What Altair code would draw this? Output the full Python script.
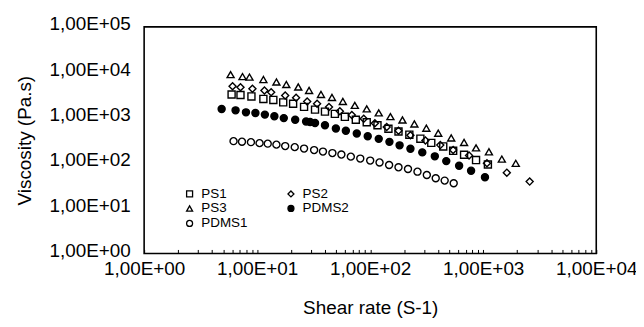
import altair as alt
import pandas as pd

series_order = ["PS1", "PS2", "PS3", "PDMS2", "PDMS1"]
series_shapes = ["square", "diamond", "triangle-up", "circle", "circle"]
series_fills = ["transparent", "transparent", "transparent", "black", "transparent"]
series_strokes = ["black", "black", "black", "black", "black"]

ps1_rate = [5.94, 7.12, 8.90, 11.35, 13.9, 17.0, 20.8, 26.0, 32.5, 39.8, 48.7, 59.7, 74.6,
            93.2, 116, 145, 178, 222, 278, 347, 443, 542, 677, 864, 1100]
ps1_visc = [3225, 3145, 2917, 2571, 2444, 2155, 2017, 1717, 1490, 1347, 1205, 1036, 890,
            785, 674, 565, 491, 418, 341, 276, 230, 184, 151, 115, 92]

ps2_rate = [6.06, 7.12, 9.08, 11.6, 13.3, 17.7, 22.1, 27.7, 33.9, 43.2, 53.9, 68.8, 87.7,
            110, 140, 178, 227, 308, 417, 542, 749, 1079, 1617, 2576]
ps2_visc = [4909, 4667, 4305, 3950, 3625, 3069, 2732, 2265, 2017, 1700, 1368, 1135, 937,
            747, 619, 511, 407, 311, 246, 191, 145, 97.5, 60.7, 38.5]

ps3_rate = [5.82, 7.42, 8.55, 11.35, 14.8, 18.1, 23.1, 28.8, 36.7, 45.9, 57.3, 73.1, 93.2,
            119, 151, 193, 246, 314, 400, 521, 677, 864, 1123, 1461, 1941]
ps3_visc = [8855, 8010, 7810, 6880, 6070, 5345, 4710, 3950, 3225, 2775, 2265, 1852, 1552,
            1268, 1046, 881, 721, 580, 450, 355, 282, 214, 175, 121, 97.5]

pdms2_rate = [4.85, 6.44, 7.96, 9.65, 11.7, 14.2, 17.2, 21.7, 27.1, 29.4, 32.5, 39.8, 49.7,
              60.9, 76.1, 95.1, 119, 148, 182, 227, 289, 373, 471, 612, 781, 1036]
pdms2_visc = [1536, 1439, 1300, 1255, 1158, 1062, 970, 890, 813, 797, 757, 674, 571,
              511, 444, 387, 338, 290, 243, 204, 170, 139, 109, 85.9, 67.1, 48.1]

pdms1_rate = [6.18, 7.34, 8.81, 10.5, 12.4, 14.8, 17.7, 21.5, 26.0, 31.9, 38.2, 46.3, 55.6,
              67.4, 81.7, 100, 121, 147, 178, 216, 262, 317, 380, 456, 548]
pdms1_visc = [301, 293, 286, 272, 265, 252, 234, 222, 206, 191, 177, 164, 152,
              137, 124, 112, 102, 89.5, 79.6, 73.1, 63.8, 54.0, 45.7, 40.5, 35.5]

x_ticks = [m * 10 ** d for d in range(4) for m in range(1, 10)] + [10000]
y_ticks = [1, 10, 100, 1000, 10000, 100000]

rows = []
for name, rates, viscs in [("PS1", ps1_rate, ps1_visc), ("PS2", ps2_rate, ps2_visc),
                           ("PS3", ps3_rate, ps3_visc), ("PDMS2", pdms2_rate, pdms2_visc),
                           ("PDMS1", pdms1_rate, pdms1_visc)]:
    for r, v in zip(rates, viscs):
        rows.append({"series": name, "rate": r, "visc": v})
df = pd.DataFrame(rows)

FONT = "Liberation Sans"

label_x = ("abs(log(datum.value)/LN10 - round(log(datum.value)/LN10)) < 0.000001 ? "
           "'1,00E+0' + round(log(datum.value)/LN10) : ''")
label_y = "'1,00E+0' + round(log(datum.value)/LN10)"


def make_legend():
    return alt.Legend(title=None, orient="none", legendX=39, legendY=161,
                      direction="horizontal", columns=2, columnPadding=36,
                      rowPadding=0, labelFont=FONT, labelFontSize=13.5,
                      labelColor="black", labelOffset=5, symbolSize=36,
                      symbolStrokeWidth=1.3, symbolOpacity=1, padding=0)


chart = alt.Chart(df).mark_point(size=50, strokeWidth=1.4, opacity=1).encode(
    x=alt.X("rate:Q",
            scale=alt.Scale(type="log", domain=[1, 10000], nice=False),
            axis=alt.Axis(title="Shear rate (S-1)", values=x_ticks, labelExpr=label_x,
                          offset=-4, tickSize=4, tickColor="black", tickWidth=1,
                          domain=False, grid=False, labelPadding=6,
                          labelFontSize=19, labelFont=FONT, labelColor="black",
                          labelOverlap=False, labelFlush=False,
                          titleFont=FONT, titleFontSize=19, titleFontWeight="normal",
                          titleColor="black", titlePadding=20)),
    y=alt.Y("visc:Q",
            scale=alt.Scale(type="log", domain=[1, 100000], nice=False),
            axis=alt.Axis(title="Viscosity (Pa.s)", values=y_ticks, labelExpr=label_y,
                          tickSize=0, domain=False, grid=False, labelPadding=14,
                          labelOffset=-3,
                          labelFontSize=19, labelFont=FONT, labelColor="black",
                          labelOverlap=False, labelFlush=False,
                          titleFont=FONT, titleFontSize=19, titleFontWeight="normal",
                          titleColor="black", titlePadding=14)),
    shape=alt.Shape("series:N", scale=alt.Scale(domain=series_order, range=series_shapes),
                    sort=series_order, legend=make_legend()),
    fill=alt.Fill("series:N", scale=alt.Scale(domain=series_order, range=series_fills),
                  sort=series_order, legend=make_legend()),
    stroke=alt.Stroke("series:N", scale=alt.Scale(domain=series_order, range=series_strokes),
                      sort=series_order, legend=make_legend()),
).properties(
    width=455, height=228,
    autosize=alt.AutoSizeParams(type="none"),
    padding={"left": 137, "top": 18, "right": 40, "bottom": 70},
).configure(
    background="white",
    view=alt.ViewConfig(stroke="black", strokeWidth=1.6),
)

chart.save("out.html", embed_options={"renderer": "svg", "actions": False})
